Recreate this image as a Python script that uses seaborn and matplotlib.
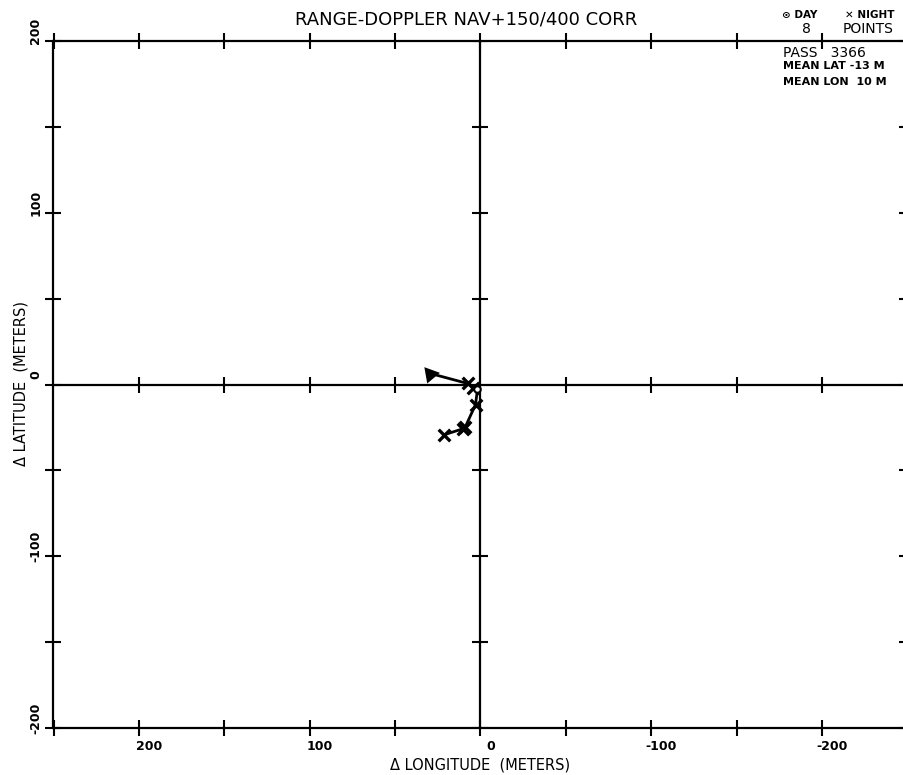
"""Range-Doppler navigation fix scatter (pass 3366), redrawn with seaborn."""

import matplotlib

matplotlib.use("Agg")

import matplotlib.pyplot as plt
import matplotlib.transforms as mtransforms
from matplotlib.ticker import MultipleLocator
import pandas as pd
import seaborn as sns

# ---------------------------------------------------------------------------
# Data
# ---------------------------------------------------------------------------
lon_m = [29.3, 7.6, 4.1, 1.8, 2.9, 8.8, 10.0, 21.1]
lat_m = [6.4, 0.6, -1.8, -2.9, -11.7, -24.5, -25.7, -29.2]
kind = ["start", "night", "night", "day", "night", "night", "night", "night"]

tick_values = [200, 100, 0, -100, -200]
minor_step = 50
axis_limit = 250

title = "RANGE-DOPPLER NAV+150/400 CORR"
pass_id = "3366"
n_points = 8
mean_lat = -13
mean_lon = 10

df = pd.DataFrame({"lon": lon_m, "lat": lat_m, "kind": kind})

sns.set_style("white")
plt.rcParams["font.family"] = ["DejaVu Sans"]
plt.rcParams["text.color"] = "black"
plt.rcParams["xtick.color"] = "black"
plt.rcParams["ytick.color"] = "black"

W, H = 904, 775
fig = plt.figure(figsize=(W / 100, H / 100), dpi=100)
# frame spans pixels x 53.5..907 (right edge just off the sheet), y 41..728
ax = fig.add_axes([53.5 / W, (H - 728) / H, 854 / W, 687 / H])

ax.set_xlim(axis_limit, -axis_limit)
ax.set_ylim(-axis_limit + 50, axis_limit - 50)

for side in ["left", "right", "top", "bottom"]:
    ax.spines[side].set_visible(True)
    ax.spines[side].set_color("black")
    ax.spines[side].set_linewidth(1.6)

ax.xaxis.set_major_locator(MultipleLocator(100))
ax.xaxis.set_minor_locator(MultipleLocator(minor_step))
ax.yaxis.set_major_locator(MultipleLocator(100))
ax.yaxis.set_minor_locator(MultipleLocator(minor_step))
ax.tick_params(which="both", direction="inout", length=12, width=1.5,
               top=True, right=True, bottom=True, left=True)
ax.tick_params(axis="x", which="major", pad=3)
ax.tick_params(axis="y", which="major", pad=2)
ax.set_xticks(tick_values)
ax.set_yticks(tick_values)
ax.set_xticklabels([str(v) for v in tick_values], fontsize=9, fontweight="bold")
ax.set_yticklabels([str(v) for v in tick_values], fontsize=9, fontweight="bold",
                   rotation=90, va="center")

# the plotter printed its numbers a little off the tick marks
shift_x = mtransforms.ScaledTranslation(0.10, 0, fig.dpi_scale_trans)
shift_y = mtransforms.ScaledTranslation(0, 0.10, fig.dpi_scale_trans)
for lbl in ax.get_xticklabels():
    lbl.set_transform(lbl.get_transform() + shift_x)
for lbl in ax.get_yticklabels():
    lbl.set_transform(lbl.get_transform() + shift_y)

# centre cross with its own tick marks
ax.axhline(0, color="black", lw=1.6, zorder=1)
ax.axvline(0, color="black", lw=1.6, zorder=1)
grid_ticks = [v for v in range(-axis_limit + minor_step, axis_limit, minor_step) if v != 0]
ax.plot(grid_ticks, [0] * len(grid_ticks), ls="none", marker="|",
        ms=12, mew=1.5, color="black", zorder=1)
ax.plot([0] * len(grid_ticks), grid_ticks, ls="none", marker="_",
        ms=12, mew=1.5, color="black", zorder=1)

# track through the fixes
sns.lineplot(data=df, x="lon", y="lat", sort=False, estimator=None,
             color="black", lw=2, ax=ax, zorder=3)
night = df[df["kind"] == "night"]
day = df[df["kind"] == "day"]
start = df[df["kind"] == "start"]
sns.scatterplot(data=night, x="lon", y="lat", marker="x", s=70,
                color="black", linewidth=2.4, ax=ax, zorder=4)
sns.scatterplot(data=day, x="lon", y="lat", marker="o", s=22,
                facecolor="white", edgecolor="black", linewidth=1.5,
                ax=ax, zorder=5)
sns.scatterplot(data=start, x="lon", y="lat", marker=(3, 0, 40), s=190,
                color="black", linewidth=0, ax=ax, zorder=5)
ax.set_xlabel("")
ax.set_ylabel("")

# titles and annotation block (figure pixel positions)
fig.text(466 / W, 1 - 20 / H, title, ha="center", va="center", fontsize=13)
fig.text(480 / W, 1 - 765 / H, "Δ LONGITUDE  (METERS)", ha="center",
         va="center", fontsize=10.5)
fig.text(21 / W, 1 - 384 / H, "Δ LATITUDE  (METERS)", ha="center",
         va="center", fontsize=10.5, rotation=90)

fig.text(782 / W, 1 - 15 / H, "⊙ DAY", ha="left", va="center",
         fontsize=7.5, fontweight="bold")
fig.text(845 / W, 1 - 15 / H, "✕ NIGHT", ha="left", va="center",
         fontsize=7.5, fontweight="bold")
fig.text(806 / W, 1 - 29 / H, str(n_points), ha="center", va="center",
         fontsize=10)
fig.text(843 / W, 1 - 29 / H, "POINTS", ha="left", va="center", fontsize=10)
fig.text(783 / W, 1 - 53 / H, f"PASS   {pass_id}", ha="left", va="center",
         fontsize=10)
fig.text(783 / W, 1 - 66 / H, f"MEAN LAT {mean_lat:d} M", ha="left",
         va="center", fontsize=8, fontweight="bold")
fig.text(783 / W, 1 - 82 / H, f"MEAN LON  {mean_lon:d} M", ha="left",
         va="center", fontsize=8, fontweight="bold")

fig.savefig("out.png", dpi=100)
